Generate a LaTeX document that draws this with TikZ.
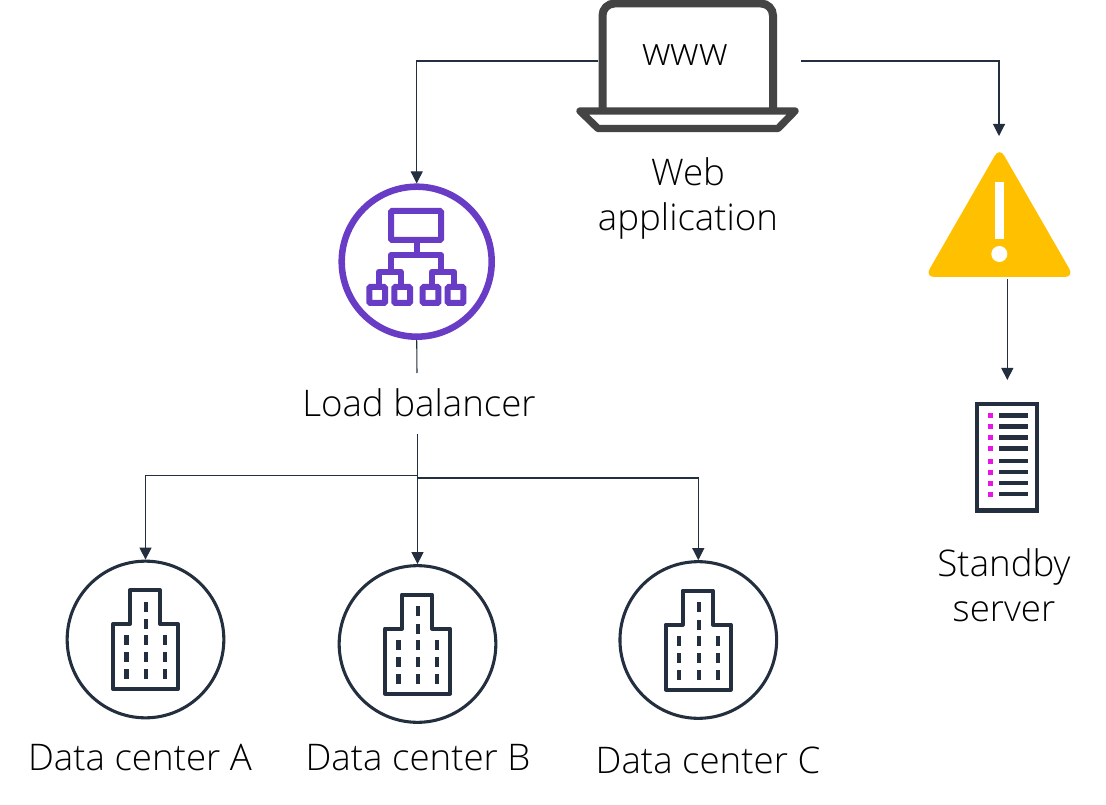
\documentclass[tikz,border=0pt]{standalone}
\usepackage{fontspec}
\setmainfont{Open Sans}[UprightFont=* Light]
\usetikzlibrary{arrows.meta}
\definecolor{ink}{HTML}{232F3E}
\definecolor{lapc}{HTML}{444444}
\definecolor{purp}{HTML}{693CC5}
\definecolor{pink}{HTML}{E815E8}
\definecolor{warn}{HTML}{FFC000}
\tikzset{
  lbl/.style={font=\fontsize{27.5}{33.75}\selectfont,text=black,inner sep=0pt,align=center},
  conn/.style={draw=ink,line width=0.8pt},
  arr/.style={conn,-{Triangle[length=9pt,width=9pt]}},
  dccircle/.style={circle,draw=ink,line width=2.3pt,minimum size=117.5pt,inner sep=0pt},
  lbbox/.style={draw=purp,line width=4.5pt,rounded corners=0.8pt},
  pics/building/.style={code={
    \draw[ink,line width=3pt,line join=round] (-32.5,-15.5) -- (-15.5,-15.5) -- (-15.5,-49.5) -- (14.5,-49.5) -- (14.5,-15.5) -- (32.5,-15.5) -- (32.5,49.5) -- (-32.5,49.5) -- cycle;
    \foreach \yy in {-33,-15.5,0.5,17.5,34.5} \fill[ink] (-1.5,\yy-5) rectangle (2.5,\yy+5);
    \foreach \yy in {0.5,17.5,34.5} {
      \fill[ink] (-21.5,\yy-5) rectangle (-16.9,\yy+5);
      \fill[ink] (17.2,\yy-5) rectangle (21.8,\yy+5);
    }
  }}
}
\begin{document}
\begin{tikzpicture}[x=0.75pt,y=-0.75pt]
\useasboundingbox[fill=white] (0,0) rectangle (1106,805);
% laptop
\draw[lapc,line width=6pt,rounded corners=9pt] (602.5,111) -- (602.5,3.5) -- (773,3.5) -- (773,111);
\draw[lapc,line width=5.5pt,line join=round] (580,111) -- (795,111) -- (778,128.5) -- (598,128.5) -- cycle;
\node[font=\fontsize{29.5}{30}\selectfont,inner sep=0pt] (www) at (685,55) {www};
\coordinate (lapL) at (598,61);
\coordinate (lapR) at (801,61);
\node[lbl] (weblabel) at (688,198) {Web\\application};
% load balancer
\node[circle,draw=purp,line width=4.9pt,minimum size=112.5pt,inner sep=0pt] (lb) at (416.7,261.7) {};
\draw[lbbox] (391,211) rectangle (441,240);
\draw[purp,line width=4.5pt,line join=round] (416.7,243) -- (416.7,255);
\draw[purp,line width=4.5pt,line join=round] (391,272) -- (391,255) -- (441,255) -- (441,272);
\draw[purp,line width=4.5pt,line join=round] (378.7,285) -- (378.7,271.7) -- (400.7,271.7) -- (400.7,285);
\draw[purp,line width=4.5pt,line join=round] (432,285) -- (432,271.7) -- (454,271.7) -- (454,285);
\foreach \xx in {369.3,394.3,422.7,447.7}
  \draw[lbbox] (\xx,287) rectangle (\xx+15.7,303);
\node[lbl] (lblabel) at (419,403) {Load balancer};
\coordinate (lbgapT) at (417,373);
\coordinate (lbgapB) at (417.5,434);
% warning
\fill[warn,rounded corners=7pt] (999.5,147.5) -- (1074,277) -- (925,277) -- cycle;
\fill[white] (994.7,181.7) rectangle (1004.3,239);
\fill[white] (999.3,254) circle[radius=8];
\coordinate (warnT) at (999,136);
\coordinate (warnB) at (1007.3,279);
% server
\node[draw=ink,line width=3.2pt,minimum width=44.8pt,minimum height=79.9pt,inner sep=0pt] (srv) at (1006.8,457.3) {};
\foreach \yy in {415.3,426.3,437.3,448.3,461,472,483,494} {
  \fill[pink] (987.7,\yy-2.5) rectangle (993,\yy+2.5);
  \fill[ink] (999,\yy-2.3) rectangle (1028,\yy+2.3);
}
\coordinate (srvT) at (1007.3,380);
\node[lbl] (srvlabel) at (1004,585) {Standby\\server};
% data centers
\node[dccircle] (dca) at (145.5,639.5) {};
\node[dccircle] (dcb) at (417.5,644) {};
\node[dccircle] (dcc) at (698.3,640) {};
\pic at (dca.center) {building};
\pic at (dcb.center) {building};
\pic at (dcc.center) {building};
\node[lbl] (la) at (140,758) {Data center A};
\node[lbl] (lb2) at (418,758) {Data center B};
\node[lbl] (lc) at (708,760) {Data center C};
% connectors
\draw[arr] (lapL) -| (lb.north);
\draw[arr] (lapR) -| (warnT);
\draw[conn] (lb.south) -- (lbgapT);
\coordinate (busA) at (417.5,475.7);
\coordinate (busC) at (417.5,478);
\draw[conn] (lbgapB) -- (busC);
\draw[arr] (busA) -| (dca.north);
\draw[arr] (busC) -- (dcb.north);
\draw[arr] (busC) -| (dcc.north);
\draw[arr] (warnB) -- (srvT);
\end{tikzpicture}
\end{document}
